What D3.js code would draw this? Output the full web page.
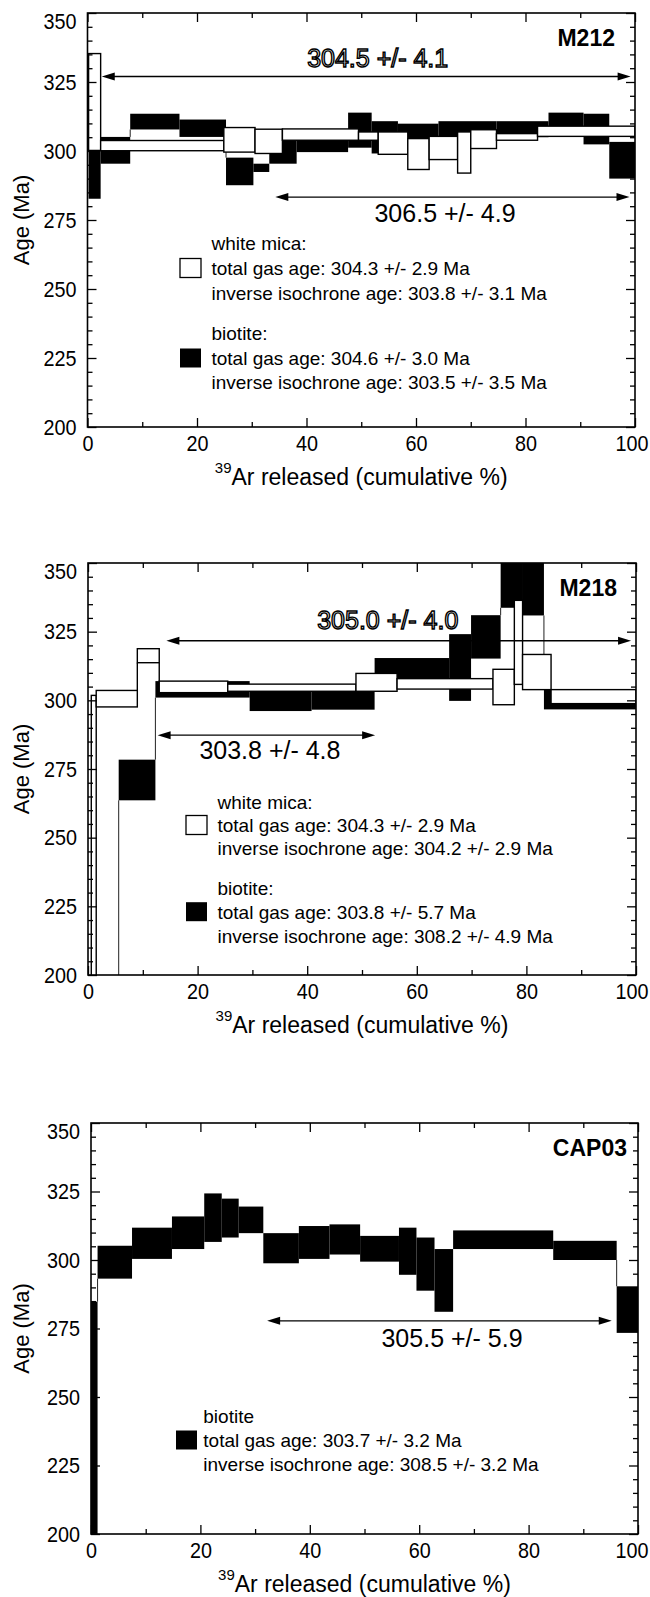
<!DOCTYPE html>
<html>
<head>
<meta charset="utf-8">
<script src="https://cdn.jsdelivr.net/npm/d3@7"></script>
<style>
  body { margin: 0; background: #fff; }
  svg text { font-family: "Liberation Sans", Arial, Helvetica, sans-serif; }
</style>
</head>
<body>
<script>
// Drawing area
const w = 650;
const h = 1597;

// Each step: [start %, end %, lower age, upper age] (Ma)

// M212
const m212Mica = [
  [0.2, 2.4, 300.2, 335.3], [2.4, 24.9, 300.1, 303.8], [24.9, 30.6, 299.6, 308.5],
  [30.6, 35.6, 299.1, 307.9], [35.6, 49.5, 303.9, 308.0], [49.5, 53.1, 303.9, 306.9],
  [53.1, 58.5, 298.8, 306.9], [58.5, 62.4, 293.3, 304.5], [62.4, 67.6, 296.9, 305.3],
  [67.6, 70.0, 292.0, 306.9], [70.0, 74.7, 300.9, 307.7], [74.7, 82.2, 303.9, 306.3],
  [82.2, 100, 305.3, 309.0]
];
const m212Biotite = [
  [0.2, 2.4, 282.7, 300.2], [2.4, 7.8, 295.4, 305.1], [7.8, 16.8, 307.8, 313.5],
  [16.8, 25.3, 305.1, 311.4], [25.3, 30.3, 287.6, 297.6], [30.3, 33.2, 292.4, 295.4],
  [33.2, 38.2, 295.4, 303.9], [38.2, 47.6, 299.6, 304.0], [47.6, 51.9, 301.2, 313.9],
  [51.9, 56.7, 299.1, 310.8], [56.7, 64.1, 302.0, 309.9], [64.1, 74.7, 304.5, 310.8],
  [74.7, 84.2, 305.0, 310.8], [84.2, 90.6, 306.5, 313.9], [90.6, 95.3, 302.4, 313.5],
  [95.3, 100, 290.0, 303.3]
];

// M218
const m218Mica = [
  [0.6, 1.5, 190, 301.8], [1.5, 9.0, 297.6, 303.6], [9.0, 13.0, 313.7, 318.8],
  [13.0, 25.5, 302.8, 307.0], [25.5, 48.9, 303.3, 305.9], [48.9, 56.4, 303.3, 309.8],
  [56.4, 73.9, 304.1, 307.9], [73.9, 77.8, 298.4, 311.3], [77.8, 79.3, 305.8, 336.4],
  [79.3, 84.5, 303.9, 316.7], [84.5, 100, 298.8, 303.9]
];
const m218Biotite = [
  [0, 5.6, 185, 195], [5.6, 12.3, 263.6, 278.4], [12.3, 29.5, 301.0, 307.0],
  [29.5, 40.8, 296.1, 304.5], [40.8, 52.3, 296.6, 304.5], [52.3, 65.9, 306.0, 315.4],
  [65.9, 69.9, 299.8, 324.1], [69.9, 75.3, 315.2, 331.0], [75.3, 79.2, 333.7, 360],
  [79.2, 83.2, 330.9, 360], [83.2, 100, 296.7, 303.9]
];

// CAP03
const cap03Biotite = [
  [0, 1.2, 195, 284.8], [1.2, 7.5, 293.2, 305.2], [7.5, 14.8, 300.4, 311.8],
  [14.8, 20.7, 304.0, 315.9], [20.7, 23.9, 306.6, 324.3], [23.9, 27.0, 308.2, 322.4],
  [27.0, 31.5, 309.8, 319.5], [31.5, 38.0, 298.8, 309.8], [38.0, 43.6, 300.4, 312.4],
  [43.6, 49.2, 302.0, 313.0], [49.2, 56.3, 299.4, 308.8], [56.3, 59.5, 294.6, 311.8],
  [59.5, 62.8, 288.8, 308.2], [62.8, 66.2, 281.1, 304.0], [66.2, 84.5, 304.0, 310.8],
  [84.5, 96.1, 300.0, 307.0], [96.1, 100, 273.4, 290.4]
];

// Plateau arrows: [from %, to %, age], labels: [text, centre %, baseline age, outlined]
const m212Plateaus = [[2.6, 99.2, 327.0], [34.3, 99.0, 283.3]];
const m212Labels = [["304.5 +/- 4.1", 53.0, 330.4, true], ["306.5 +/- 4.9", 65.3, 274.3, false]];
const m218Plateaus = [[14.3, 99.1, 321.7], [12.7, 52.4, 287.3]];
const m218Labels = [["305.0 +/- 4.0", 54.7, 326.1, true], ["303.8 +/- 4.8", 33.2, 278.8, false]];
const cap03Plateaus = [[32.2, 95.2, 277.8]];
const cap03Labels = [["305.5 +/- 5.9", 66.0, 268.1, false]];

// Legend texts
const m212Legend = ["white mica:", "total gas age: 304.3 +/- 2.9 Ma", "inverse isochrone age: 303.8 +/- 3.1 Ma",
  "biotite:", "total gas age: 304.6 +/- 3.0 Ma", "inverse isochrone age: 303.5 +/- 3.5 Ma"];
const m218Legend = ["white mica:", "total gas age: 304.3 +/- 2.9 Ma", "inverse isochrone age: 304.2 +/- 2.9 Ma",
  "biotite:", "total gas age: 303.8 +/- 5.7 Ma", "inverse isochrone age: 308.2 +/- 4.9 Ma"];
const cap03Legend = ["biotite", "total gas age: 303.7 +/- 3.2 Ma", "inverse isochrone age: 308.5 +/- 3.2 Ma"];

// Axis ticks
const xTicks = [0, 20, 40, 60, 80, 100];
const xMinorTicks = [10, 30, 50, 70, 90];
const yTicks = [200, 225, 250, 275, 300, 325, 350];
const yMinorTicks = [205, 210, 215, 220, 230, 235, 240, 245, 255, 260, 265, 270,
  280, 285, 290, 295, 305, 310, 315, 320, 330, 335, 340, 345];

// Panel layout (pixels) and legend placement
const panels = [
  { name: "M212", mica: m212Mica, biotite: m212Biotite, plateaus: m212Plateaus, labels: m212Labels,
    legend: m212Legend, frame: { left: 87.5, right: 635, top: 13, bottom: 427 },
    boxX: 92.5, textX: 124, lines: [230, 255, 280, 320, 345, 369], micaLine: 1, bioLine: 4, nameRight: 20 },
  { name: "M218", mica: m218Mica, biotite: m218Biotite, plateaus: m218Plateaus, labels: m218Labels,
    legend: m218Legend, frame: { left: 88, right: 636, top: 563, bottom: 975 },
    boxX: 98, textX: 129.5, lines: [238.7, 262, 285.3, 325.3, 348.7, 372.7], micaLine: 1, bioLine: 4, nameRight: 19 },
  { name: "CAP03", mica: [], biotite: cap03Biotite, plateaus: cap03Plateaus, labels: cap03Labels,
    legend: cap03Legend, frame: { left: 91, right: 638, top: 1123, bottom: 1534 },
    boxX: 85, textX: 112.3, lines: [293, 317, 341], micaLine: -1, bioLine: 1, nameRight: 11 }
];

// tick labels are a little narrower than the regular face
const squeeze = 0.9;

const svg = d3.select("body").append("svg").attr("width", w).attr("height", h);
svg.append("rect").attr("width", w).attr("height", h).attr("fill", "#fff");

// Vertical links between consecutive steps that do not overlap
function stepLinks(steps) {
  const links = [];
  for (let i = 0; i < steps.length - 1; i++) {
    const a = steps[i], b = steps[i + 1];
    if (a[3] < b[2]) links.push([a[1], a[3], b[2]]);
    else if (b[3] < a[2]) links.push([a[1], b[3], a[2]]);
  }
  return links;
}

panels.forEach((p, i) => drawPanel(p, i));

function drawPanel(p, i) {
  const f = p.frame;
  const x = d3.scaleLinear().domain([0, 100]).range([f.left, f.right]);
  const y = d3.scaleLinear().domain([200, 350]).range([f.bottom, f.top]);
  const g = svg.append("g");

  g.append("clipPath").attr("id", "clip" + i)
    .append("rect").attr("x", f.left).attr("y", f.top)
    .attr("width", f.right - f.left).attr("height", f.bottom - f.top);

  const plot = g.append("g").attr("clip-path", "url(#clip" + i + ")");

  // biotite: filled black steps
  plot.selectAll("rect.bio").data(p.biotite).join("rect").attr("class", "bio")
    .attr("x", d => x(d[0])).attr("width", d => x(d[1]) - x(d[0]))
    .attr("y", d => y(d[3])).attr("height", d => y(d[2]) - y(d[3]))
    .attr("fill", "#000");
  plot.selectAll("line.bioLink").data(stepLinks(p.biotite)).join("line").attr("class", "bioLink")
    .attr("x1", d => x(d[0])).attr("x2", d => x(d[0]))
    .attr("y1", d => y(d[1])).attr("y2", d => y(d[2]))
    .attr("stroke", "#222").attr("stroke-width", 1);

  // white mica: open steps
  plot.selectAll("rect.mica").data(p.mica).join("rect").attr("class", "mica")
    .attr("x", d => x(d[0])).attr("width", d => x(d[1]) - x(d[0]))
    .attr("y", d => y(d[3])).attr("height", d => y(d[2]) - y(d[3]))
    .attr("fill", "#fff").attr("stroke", "#000").attr("stroke-width", 1.4);
  plot.selectAll("line.micaLink").data(stepLinks(p.mica)).join("line").attr("class", "micaLink")
    .attr("x1", d => x(d[0])).attr("x2", d => x(d[0]))
    .attr("y1", d => y(d[1])).attr("y2", d => y(d[2]))
    .attr("stroke", "#000").attr("stroke-width", 1.4);

  // plateau arrows
  p.plateaus.forEach(d => {
    const x1 = x(d[0]), x2 = x(d[1]), yy = y(d[2]);
    g.append("line").attr("x1", x1 + 6).attr("x2", x2 - 6).attr("y1", yy).attr("y2", yy)
      .attr("stroke", "#000").attr("stroke-width", 1.3);
    g.append("path").attr("d", `M${x1},${yy}L${x1 + 13},${yy - 4}L${x1 + 13},${yy + 4}Z`).attr("fill", "#000");
    g.append("path").attr("d", `M${x2},${yy}L${x2 - 13},${yy - 4}L${x2 - 13},${yy + 4}Z`).attr("fill", "#000");
  });
  p.labels.forEach(d => {
    const t = g.append("text").attr("x", x(d[1])).attr("y", y(d[2]))
      .attr("text-anchor", "middle").attr("font-size", 25).text(d[0]);
    if (d[3]) t.attr("fill", "#fff").attr("stroke", "#000").attr("stroke-width", 1.4);
    else t.attr("fill", "#000");
  });

  // legend
  p.legend.forEach((txt, k) => {
    g.append("text").attr("x", f.left + p.textX).attr("y", f.top + p.lines[k] + 7)
      .attr("font-size", 19).text(txt);
  });
  if (p.micaLine >= 0) {
    g.append("rect").attr("x", f.left + p.boxX).attr("y", f.top + p.lines[p.micaLine] - 9.5)
      .attr("width", 21).attr("height", 19).attr("fill", "#fff").attr("stroke", "#000").attr("stroke-width", 1.3);
  }
  g.append("rect").attr("x", f.left + p.boxX).attr("y", f.top + p.lines[p.bioLine] - 9.5)
    .attr("width", 21).attr("height", 19).attr("fill", "#000");

  // sample name
  g.append("text").attr("x", f.right - p.nameRight).attr("y", f.top + 33)
    .attr("text-anchor", "end").attr("font-size", 23).attr("font-weight", "bold").text(p.name);

  // axes with inward ticks on all four sides
  const axes = [
    [d3.axisBottom(x).tickValues(xTicks).tickSize(-9).tickPadding(8), `translate(0,${f.bottom})`],
    [d3.axisBottom(x).tickValues(xMinorTicks).tickSize(-5).tickFormat(""), `translate(0,${f.bottom})`],
    [d3.axisTop(x).tickValues(xTicks).tickSize(-9).tickFormat(""), `translate(0,${f.top})`],
    [d3.axisTop(x).tickValues(xMinorTicks).tickSize(-5).tickFormat(""), `translate(0,${f.top})`],
    [d3.axisLeft(y).tickValues(yTicks).tickSize(-9).tickPadding(11), `translate(${f.left},0)`],
    [d3.axisLeft(y).tickValues(yMinorTicks).tickSize(-5).tickFormat(""), `translate(${f.left},0)`],
    [d3.axisRight(y).tickValues(yTicks).tickSize(-9).tickFormat(""), `translate(${f.right},0)`],
    [d3.axisRight(y).tickValues(yMinorTicks).tickSize(-5).tickFormat(""), `translate(${f.right},0)`]
  ];
  axes.forEach(a => {
    const ag = g.append("g").attr("transform", a[1]).call(a[0].tickSizeOuter(0));
    ag.select(".domain").remove();
    ag.attr("font-size", 22).attr("font-family", null);
    ag.selectAll("line").attr("stroke-width", 1.3);
    ag.selectAll("text").attr("fill", "#000")
      .attr("x", function () { return +d3.select(this).attr("x") / squeeze || 0; })
      .attr("transform", `scale(${squeeze},1)`);
  });
  // keep the top label inside the frame height
  g.selectAll(".tick text").filter(d => d === 350).attr("y", 8);
  // keep the last x label inside the page
  g.selectAll(".tick text").filter(d => d === 100).each(function () {
    const half = this.getComputedTextLength() * squeeze / 2;
    const over = x(100) + half - (w - 2);
    if (over > 0) d3.select(this).attr("dx", -over / squeeze);
  });

  // frame
  g.append("rect").attr("x", f.left).attr("y", f.top)
    .attr("width", f.right - f.left).attr("height", f.bottom - f.top)
    .attr("fill", "none").attr("stroke", "#000").attr("stroke-width", 1.6);

  // axis titles
  const xt = g.append("text").attr("x", (f.left + f.right) / 2).attr("y", f.bottom + 58)
    .attr("text-anchor", "middle").attr("font-size", 23);
  xt.append("tspan").attr("font-size", 15).attr("dy", -12).text("39");
  xt.append("tspan").attr("dy", 12).text("Ar released (cumulative %)");

  g.append("text").attr("transform", `translate(29,${(f.top + f.bottom) / 2}) rotate(-90)`)
    .attr("text-anchor", "middle").attr("font-size", 22).text("Age (Ma)");
}
</script>
</body>
</html>
